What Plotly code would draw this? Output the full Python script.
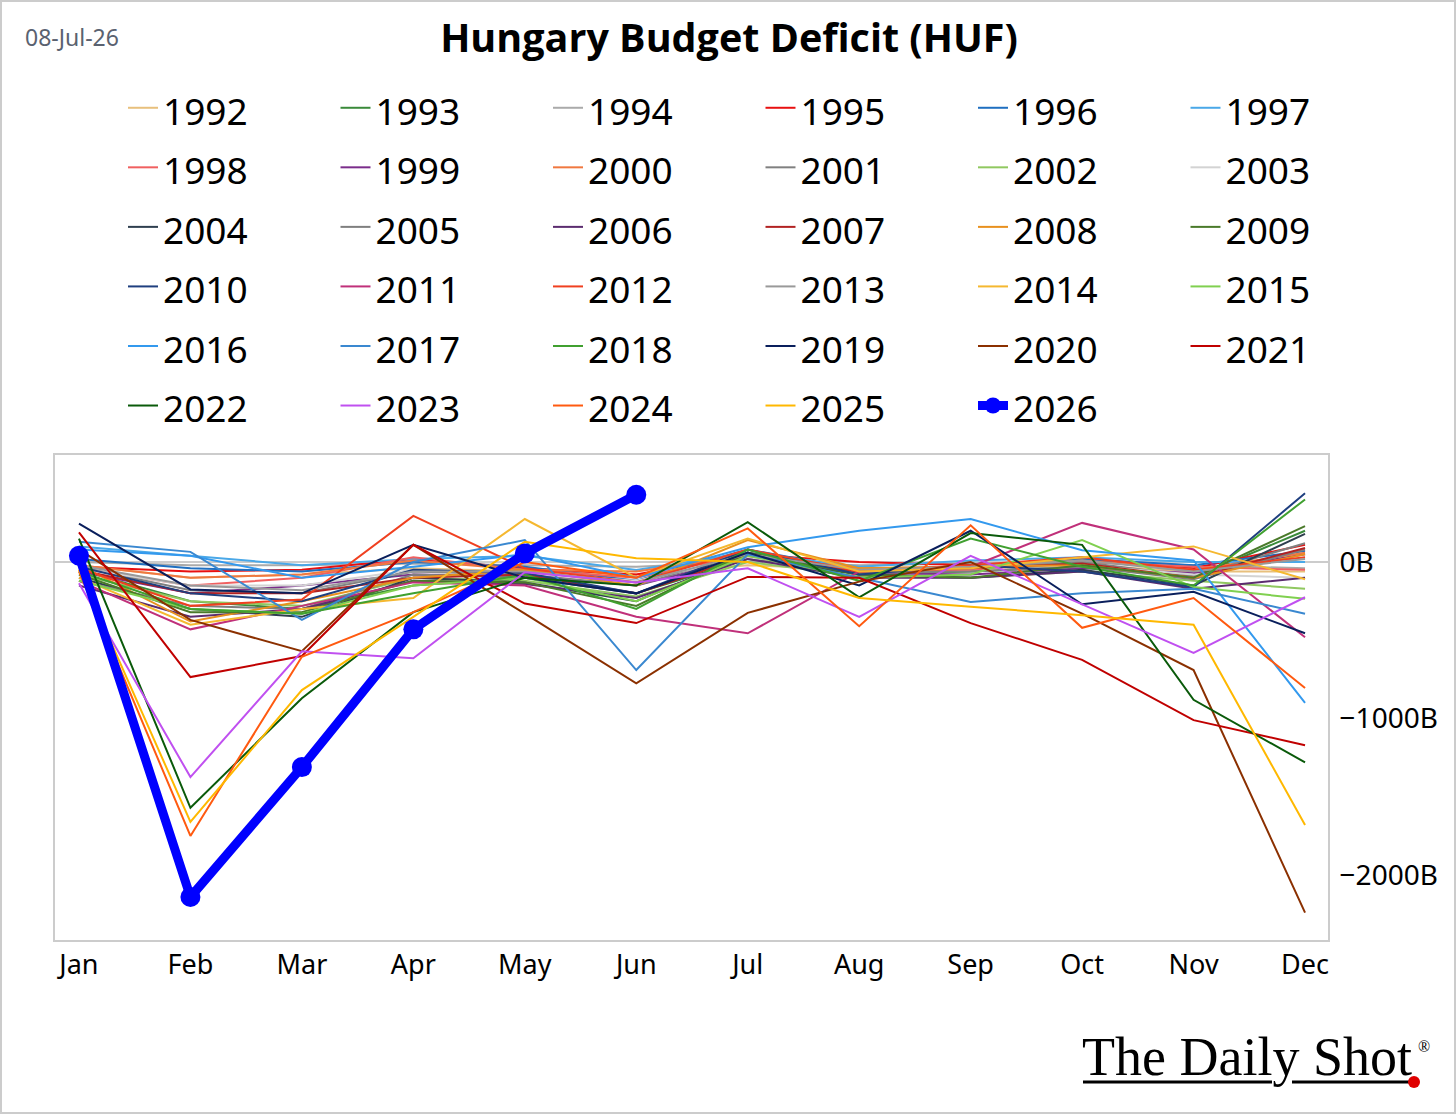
import plotly.graph_objects as go

months = ["Jan", "Feb", "Mar", "Apr", "May", "Jun", "Jul", "Aug", "Sep", "Oct", "Nov", "Dec"]

years = [str(y) for y in range(1992, 2027)]

y1992 = [-20, -100, -80, -40, -60, -80, -20, -50, -40, -20, -60, -60]
y1993 = [-50, -250, -300, -150, -100, -200, 20, -80, -60, -30, -100, 200]
y1994 = [0, -20, -20, -10, -20, -30, 0, -20, -10, 0, -20, -40]
y1995 = [-30, -60, -50, 20, -40, -80, 50, 0, -20, 10, -40, 110]
y1996 = [20, -40, -60, 0, -30, -120, 80, -50, -30, 20, -20, 70]
y1997 = [100, 40, -20, 20, 40, -50, 60, -30, 10, 30, 0, 0]
y1998 = [-40, -150, -100, 30, -50, -100, 50, -60, -50, 0, -30, -50]
y1999 = [-60, -200, -150, -80, -90, -150, 30, -70, -80, -40, -70, 50]
y2000 = [-20, -100, -80, 10, -50, -60, 40, -40, -30, 10, -50, 60]
y2001 = [-30, -180, -200, -60, -80, -150, 60, -60, -40, 0, -90, 120]
y2002 = [-80, -250, -280, -100, -120, -220, 0, -90, -100, -60, -120, -170]
y2003 = [-40, -150, -150, -50, -70, -120, 30, -50, -40, -20, -80, -100]
y2004 = [-100, -300, -350, -100, -130, -250, 50, -80, -100, -50, -150, 180]
y2005 = [-120, -280, -300, -80, -100, -200, 60, -70, -60, -30, -110, 80]
y2006 = [-150, -350, -300, -120, -140, -230, 20, -100, -100, -60, -170, -100]
y2007 = [-50, -200, -200, -100, -80, -200, 40, -60, -40, -10, -100, 90]
y2008 = [-20, -380, -250, -100, -50, -150, 140, -40, -30, -20, -100, 50]
y2009 = [-80, -320, -320, -120, -130, -280, 60, -80, -100, -20, -100, 230]
y2010 = [-30, -200, -250, -50, -70, -200, 80, -80, -20, -60, -160, 440]
y2011 = [-120, -430, -280, -130, -150, -350, -455, -60, -30, 250, 80, -480]
y2012 = [-40, -280, -240, 295, -40, -130, 80, -60, -20, 30, -50, 30]
y2013 = [-20, -150, -180, -60, -60, -130, 50, -50, -30, 10, -60, 20]
y2014 = [-100, -400, -300, -230, 275, -100, 150, -60, -40, 30, 100, -110]
y2015 = [-120, -300, -330, -150, -100, -250, 40, -100, -80, 140, -160, -235]
y2016 = [80, 40, -100, -30, 50, -100, 95, 200, 275, 75, 10, -900]
y2017 = [130, 65, -370, 0, 140, -690, 50, -100, -255, -200, -170, -330]
y2018 = [-60, -300, -330, -200, -80, -300, 80, -120, 150, -30, -150, 400]
y2019 = [245, -175, -200, 110, -100, -200, 60, -150, 200, -270, -190, -455]
y2020 = [80, -370, -570, 110, -330, -775, -325, -125, 0, -330, -690, -2240]
y2021 = [190, -735, -600, 110, -265, -390, -95, -100, -390, -625, -1010, -1170]
y2022 = [150, -1570, -870, -320, -100, -150, 255, -225, 185, 110, -880, -1280]
y2023 = [-135, -1374, -570, -615, -65, -130, -40, -350, 40, -270, -580, -225]
y2024 = [-60, -1750, -605, -320, 0, -100, 215, -410, 235, -420, -230, -805]
y2025 = [-50, -1660, -818, -350, 130, 25, 0, -230, -285, -340, -400, -1680]
y2026 = [40, -2140, -1310, -430, 55, 430]

colors = [
    "#E8C07D", "#3A8A3A", "#AAAAAA", "#E81010", "#1F6FC0", "#4AA8E8",
    "#F06060", "#7B2D8B", "#F07840", "#808080", "#90C860", "#D3D3D3",
    "#2F3F4F", "#7F7F7F", "#5B2C6F", "#B22222", "#E8901E", "#4A7A2A",
    "#1F3F7F", "#C0307A", "#F04020", "#999999", "#F5B830", "#80D050",
    "#3399EE", "#3A88D0", "#40A030", "#0A1F5C", "#8B3000", "#C00000",
    "#0A5A0A", "#C050F0", "#FF5A10", "#FFB800", "#0000FF",
]

series = [y1992, y1993, y1994, y1995, y1996, y1997, y1998, y1999, y2000, y2001,
          y2002, y2003, y2004, y2005, y2006, y2007, y2008, y2009, y2010, y2011,
          y2012, y2013, y2014, y2015, y2016, y2017, y2018, y2019, y2020, y2021,
          y2022, y2023, y2024, y2025, y2026]

yticks = [0, -1000, -2000]
yticktext = ["0B", "\u22121000B", "\u22122000B"]

W, H = 1456, 1114
ML, MR, MT, MB = 55, 128, 455, 174
PW, PH = W - ML - MR, H - MT - MB


def xp(px):
    return (px - ML) / PW


def yp(py):
    return (H - MB - py) / PH


fig = go.Figure()
for name, vals, col in zip(years, series, colors):
    label = '<span style="font-size:37px">' + name + '</span>'
    if name == "2026":
        fig.add_trace(go.Scatter(
            x=months[:len(vals)], y=vals, name=label, mode="lines+markers",
            line=dict(color=col, width=9), marker=dict(color=col, size=20)))
    else:
        fig.add_trace(go.Scatter(
            x=months[:len(vals)], y=vals, name=label, mode="lines",
            line=dict(color=col, width=2)))

shapes = [
    dict(type="rect", xref="paper", yref="paper", x0=xp(1), x1=xp(W - 1), y0=yp(1), y1=yp(H - 1),
         line=dict(color="#CCCCCC", width=2), layer="below"),
    dict(type="line", xref="paper", yref="paper", x0=xp(1083), x1=xp(1272), y0=yp(1082), y1=yp(1082),
         line=dict(color="black", width=3)),
    dict(type="line", xref="paper", yref="paper", x0=xp(1292), x1=xp(1412), y0=yp(1082), y1=yp(1082),
         line=dict(color="black", width=3)),
    dict(type="circle", xref="paper", yref="paper", x0=xp(1408), x1=xp(1420), y0=yp(1076), y1=yp(1088),
         fillcolor="#E00000", line=dict(width=0)),
]

annotations = [
    dict(text="08-Jul-26", xref="paper", yref="paper", x=xp(23), y=yp(37), xanchor="left", yanchor="middle",
         showarrow=False, font=dict(family="Noto Sans", size=23, color="#5A6270")),
    dict(text="The Daily Shot", xref="paper", yref="paper", x=xp(1080), y=yp(1057), xanchor="left", yanchor="middle",
         showarrow=False, font=dict(family="Liberation Serif", size=54, color="black")),
    dict(text="®", xref="paper", yref="paper", x=xp(1416), y=yp(1046), xanchor="left", yanchor="middle",
         showarrow=False, font=dict(family="Liberation Serif", size=16, color="black")),
]

fig.update_layout(
    width=W, height=H,
    margin=dict(l=ML, r=MR, t=MT, b=MB),
    paper_bgcolor="white", plot_bgcolor="white",
    title=dict(text="<b>Hungary Budget Deficit (HUF)</b>", x=729 / W, xref="container", xanchor="center",
               y=1 - 38 / H, yref="container", yanchor="middle",
               font=dict(family="Open Sans", size=39.5, color="black")),
    showlegend=True,
    legend=dict(orientation="h", xref="paper", yref="paper", x=xp(123), y=yp(73),
                xanchor="left", yanchor="top", entrywidth=167.5, entrywidthmode="pixels",
                font=dict(family="Noto Sans", size=43.5, color="black"), bgcolor="rgba(0,0,0,0)",
                traceorder="normal"),
    xaxis=dict(range=[-0.215, 11.206], showgrid=False, zeroline=False, showline=True, mirror=True,
               linecolor="#CCCCCC", linewidth=2, ticks="", tickfont=dict(family="Noto Sans", size=27, color="black"),
               fixedrange=True),
    yaxis=dict(range=[-2415, 684], side="right", showgrid=False, zeroline=True, zerolinecolor="#CCCCCC",
               zerolinewidth=2, showline=True, mirror=True, linecolor="#CCCCCC", linewidth=2,
               tickvals=yticks, ticktext=yticktext, ticks="", ticklabelstandoff=4,
               tickfont=dict(family="Noto Sans", size=28, color="black"), fixedrange=True),
    shapes=shapes, annotations=annotations,
)

fig.write_html("out.html")
